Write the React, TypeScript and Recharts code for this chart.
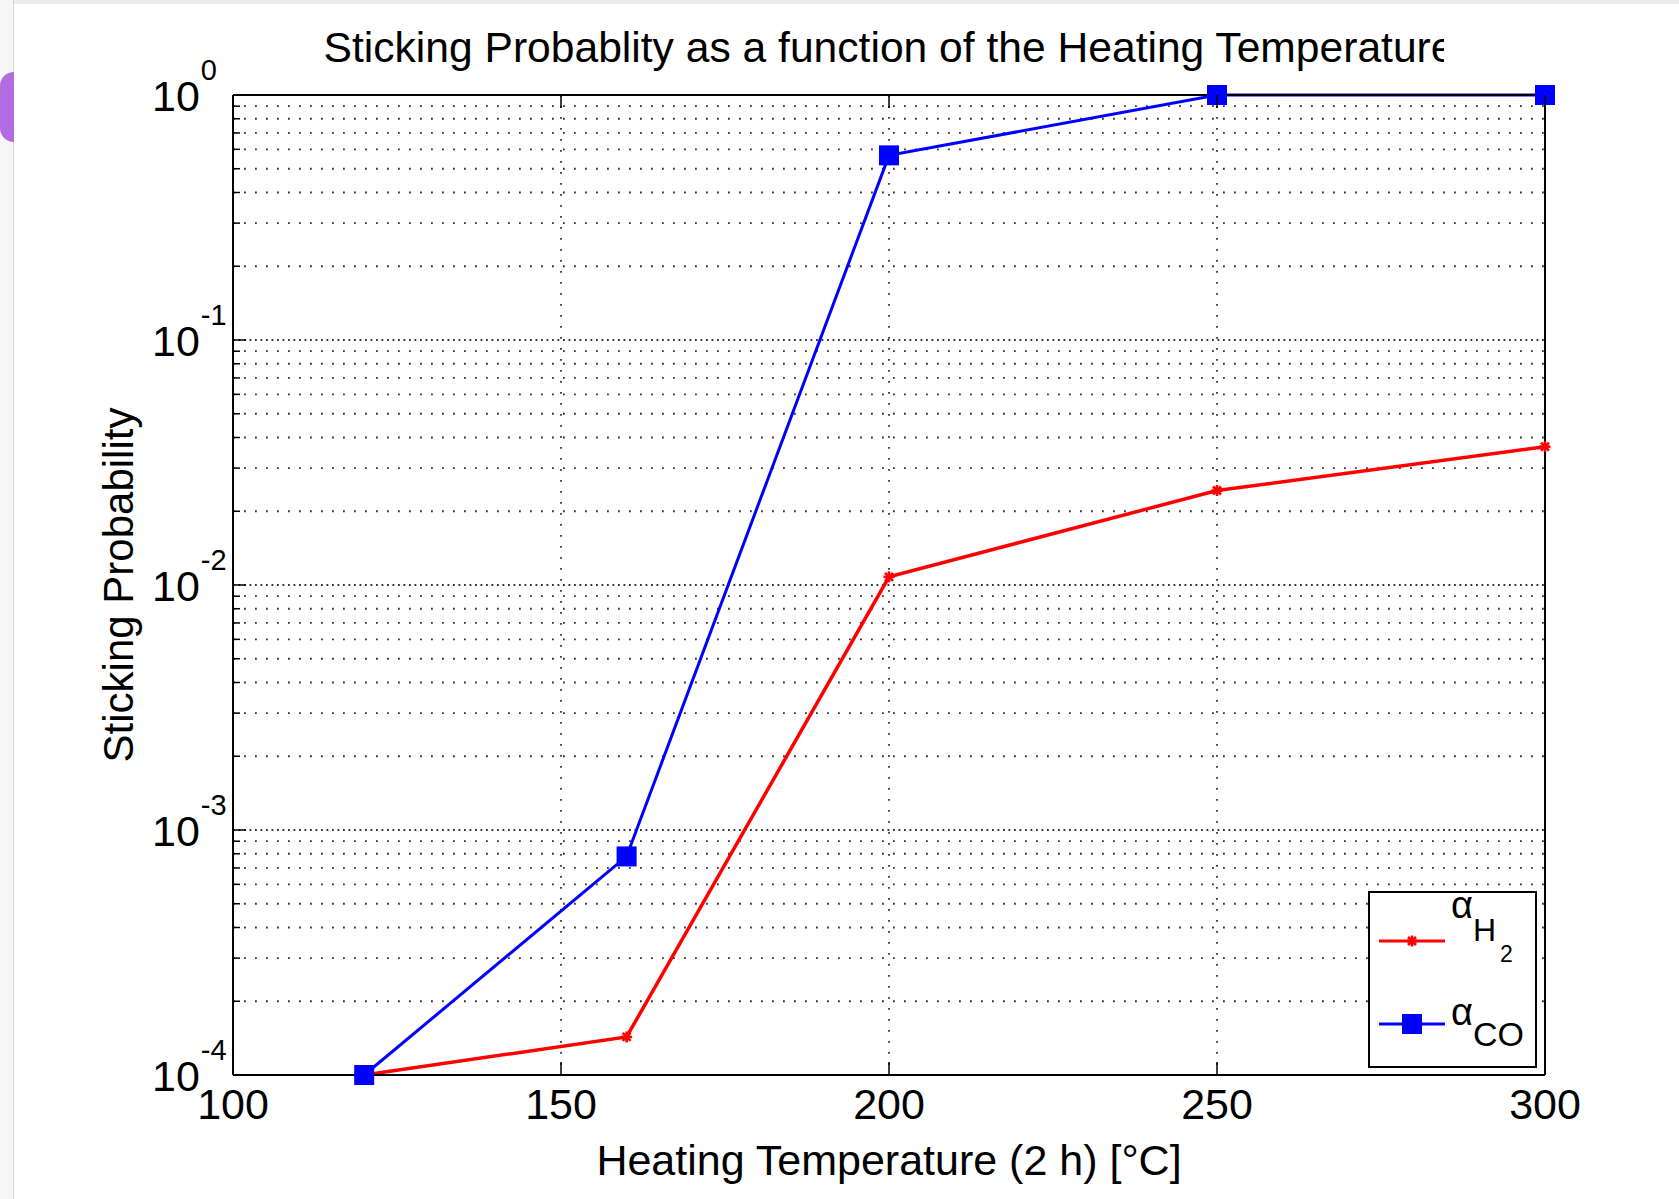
import React from "react"
import { CartesianGrid, Label, Legend, Line, LineChart, ReferenceLine, XAxis, YAxis } from "recharts"

// heating temperature (°C) and measured sticking probabilities
const temps = [120, 160, 200, 250, 300]
const alphaH2 = [1e-4, 1.43e-4, 0.0108, 0.0243, 0.0367]
const alphaCO = [1e-4, 7.8e-4, 0.567, 1, 1]

const xTicks = [100, 150, 200, 250, 300]
const decades = [1e-4, 1e-3, 1e-2, 1e-1, 1]
const mantissas = [1, 2, 3, 4, 5, 6, 7, 8, 9]
const yTicks = decades.flatMap((d) => (d === 1 ? [1] : mantissas.map((m) => m * d)))

const rows = temps.map((t, i) => ({ t, h2: alphaH2[i], co: alphaCO[i] }))

const FONT = "'Liberation Sans', Arial, Helvetica, sans-serif"
const isDecade = (v: number) => decades.includes(v)

function LeftTick({ x, y, payload }: any) {
  const v = payload.value
  const major = isDecade(v)
  return (
    <g>
      <line x1={x} x2={x + (major ? 13 : 7)} y1={y} y2={y} stroke="#000" strokeWidth={1.5} />
      {major && (
        <text x={x - 81} y={y + 16} fontSize={43} fontFamily={FONT} fill="#000">
          10
          <tspan dy={-31} dx={1} fontSize={29}>{String(Math.round(Math.log10(v)))}</tspan>
        </text>
      )}
    </g>
  )
}

function RightTick({ x, y, payload }: any) {
  const major = isDecade(payload.value)
  return <line x1={x} x2={x - (major ? 13 : 7)} y1={y} y2={y} stroke="#000" strokeWidth={1.5} />
}

function BottomTick({ x, y, payload }: any) {
  return (
    <g>
      <line x1={x} x2={x} y1={y} y2={y - 13} stroke="#000" strokeWidth={1.5} />
      <text x={x} y={y + 44} textAnchor="middle" fontSize={43} fontFamily={FONT} fill="#000">
        {payload.value}
      </text>
    </g>
  )
}

function TopTick({ x, y }: any) {
  return <line x1={x} x2={x} y1={y} y2={y + 13} stroke="#000" strokeWidth={1.5} />
}

function StarDot({ cx, cy }: any) {
  if (cx == null || cy == null) return null
  const r = 5.5
  return (
    <g stroke="#ff0000" strokeWidth={2.6}>
      <line x1={cx - r} x2={cx + r} y1={cy} y2={cy} />
      <line x1={cx} x2={cx} y1={cy - r} y2={cy + r} />
      <line x1={cx - 4} x2={cx + 4} y1={cy - 4} y2={cy + 4} />
      <line x1={cx - 4} x2={cx + 4} y1={cy + 4} y2={cy - 4} />
    </g>
  )
}

function SquareDot({ cx, cy }: any) {
  if (cx == null || cy == null) return null
  return <rect x={cx - 10} y={cy - 10} width={20} height={20} fill="#0000ff" />
}

function TitleLabel({ viewBox }: any) {
  const x = viewBox?.x ?? 233
  const w = viewBox?.width ?? 1312
  const y = viewBox?.y ?? 35
  return (
    <g>
      <defs>
        <clipPath id="title-clip">
          <rect x={0} y={0} width={1444} height={120} />
        </clipPath>
      </defs>
      <text
        x={x + w / 2}
        y={y + 27}
        textAnchor="middle"
        fontSize={42.6}
        fontFamily={FONT}
        fill="#000"
        clipPath="url(#title-clip)"
      >
        Sticking Probablity as a function of the Heating Temperature
      </text>
    </g>
  )
}

function XLabel({ viewBox }: any) {
  const x = viewBox?.x ?? 233
  const w = viewBox?.width ?? 1312
  const y = viewBox?.y ?? 1075
  return (
    <text x={x + w / 2} y={y + 100} textAnchor="middle" fontSize={43} fontFamily={FONT} fill="#000">
      Heating Temperature (2 h) [°C]
    </text>
  )
}

function YLabel({ viewBox }: any) {
  const x = (viewBox?.x ?? 113) + 20
  const cy = (viewBox?.y ?? 95) + (viewBox?.height ?? 980) / 2
  return (
    <text
      x={x}
      y={cy}
      transform={`rotate(-90 ${x} ${cy})`}
      textAnchor="middle"
      fontSize={42}
      fontFamily={FONT}
      fill="#000"
    >
      Sticking Probability
    </text>
  )
}

// legend svg reaches 20px above the box so the raised alpha stays inside it
function LegendBox() {
  const top = 20
  return (
    <svg width={169} height={197} style={{ display: "block", overflow: "visible" }}>
      <rect x={1} y={top + 1} width={167} height={175} fill="#fff" stroke="#000" strokeWidth={2} />
      <line x1={11} x2={77} y1={top + 50} y2={top + 50} stroke="#ff0000" strokeWidth={3} />
      <StarDot cx={44} cy={top + 50} />
      <text fontFamily={FONT} fill="#000">
        <tspan x={83} y={top + 27} fontSize={38}>α</tspan>
        <tspan x={105} y={top + 50} fontSize={32}>H</tspan>
        <tspan x={132} y={top + 71} fontSize={23}>2</tspan>
      </text>
      <line x1={11} x2={77} y1={top + 133} y2={top + 133} stroke="#0000ff" strokeWidth={3} />
      <SquareDot cx={44} cy={top + 133} />
      <text fontFamily={FONT} fill="#000">
        <tspan x={83} y={top + 134} fontSize={38}>α</tspan>
        <tspan x={105} y={top + 155} fontSize={34}>CO</tspan>
      </text>
    </svg>
  )
}

export default function App() {
  return (
    <div style={{ position: "absolute", left: 0, top: 0, width: 1679, height: 1199, background: "#fff" }}>
      <div style={{ position: "absolute", left: 0, top: 0, width: 1679, height: 4, background: "#ececec" }} />
      <div
        style={{
          position: "absolute",
          left: 0,
          top: 0,
          width: 13,
          height: 1199,
          background: "#f6f6f6",
          borderRight: "1px solid #d4d4d4",
        }}
      />
      <div
        style={{
          position: "absolute",
          left: 0,
          top: 72,
          width: 14,
          height: 70,
          background: "#b26be0",
          borderTopLeftRadius: 14,
          borderBottomLeftRadius: 14,
        }}
      />
      <LineChart width={1679} height={1199} data={rows} margin={{ top: 35, right: 114, bottom: 14, left: 113 }}>
        <CartesianGrid stroke="#333" strokeWidth={1.8} strokeDasharray="1.8 9.2" />
        {decades.map((d) => (
          <ReferenceLine
            key={d}
            y={d}
            stroke="#333"
            strokeWidth={1.8}
            strokeDasharray="1.8 9.2"
            strokeDashoffset={5.5}
          />
        ))}
        <XAxis
          dataKey="t"
          type="number"
          domain={[100, 300]}
          ticks={xTicks}
          interval={0}
          height={110}
          tickSize={0}
          tickMargin={0}
          tickLine={false}
          tick={<BottomTick />}
          axisLine={{ stroke: "#000", strokeWidth: 2 }}
        >
          <Label content={<XLabel />} />
        </XAxis>
        <XAxis
          xAxisId="top"
          orientation="top"
          dataKey="t"
          type="number"
          domain={[100, 300]}
          ticks={xTicks}
          interval={0}
          height={60}
          tickSize={0}
          tickMargin={0}
          tickLine={false}
          tick={<TopTick />}
          axisLine={{ stroke: "#000", strokeWidth: 2 }}
        >
          <Label content={<TitleLabel />} />
        </XAxis>
        <YAxis
          type="number"
          scale="log"
          domain={[1e-4, 1]}
          ticks={yTicks}
          interval={0}
          width={120}
          tickSize={0}
          tickMargin={0}
          tickLine={false}
          tick={<LeftTick />}
          axisLine={{ stroke: "#000", strokeWidth: 2 }}
        >
          <Label content={<YLabel />} />
        </YAxis>
        <YAxis
          yAxisId="right"
          orientation="right"
          type="number"
          scale="log"
          domain={[1e-4, 1]}
          ticks={yTicks}
          interval={0}
          width={20}
          tickSize={0}
          tickMargin={0}
          tickLine={false}
          tick={<RightTick />}
          axisLine={{ stroke: "#000", strokeWidth: 2 }}
        />
        <Line
          dataKey="h2"
          stroke="#ff0000"
          strokeWidth={3.5}
          dot={<StarDot />}
          activeDot={false}
          isAnimationActive={false}
        />
        <Line
          dataKey="co"
          stroke="#0000ff"
          strokeWidth={3}
          dot={<SquareDot />}
          activeDot={false}
          isAnimationActive={false}
        />
        <Legend
          align="center"
          verticalAlign="middle"
          layout="horizontal"
          wrapperStyle={{ left: 1368, top: 871, width: 169, height: 197 }}
          content={() => <LegendBox />}
        />
      </LineChart>
    </div>
  )
}
